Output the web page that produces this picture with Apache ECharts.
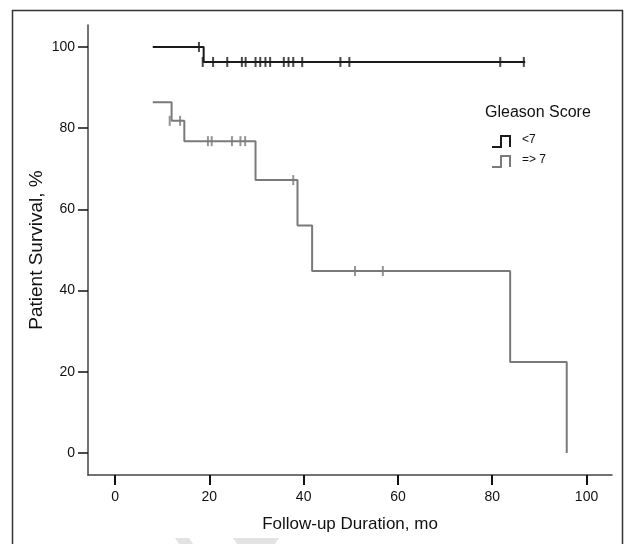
<!DOCTYPE html>
<html>
<head>
<meta charset="utf-8">
<script src="https://cdn.jsdelivr.net/npm/echarts@6/dist/echarts.min.js"></script>
<style>
html,body{margin:0;padding:0;background:#fff;}
#c{width:625px;height:544px;}
</style>
</head>
<body>
<div id="c"></div>
<script>
// ---- Data ----
const xTicks = [0, 20, 40, 60, 80, 100];
const yTicks = [0, 20, 40, 60, 80, 100];

// Gleason score < 7 : step points (time in months, survival %)
const lowTimes = [8, 18.8, 87];
const lowSurv = [100, 96.3, 96.3];
const lowCensorTimes = [17.8, 18.6, 20.8, 23.8, 26.9, 27.7, 29.8, 30.8, 31.9, 32.9, 35.8, 36.8, 37.8, 39.7, 47.8, 49.7, 81.7, 86.7];
const lowCensorSurv = [100, 96.3, 96.3, 96.3, 96.3, 96.3, 96.3, 96.3, 96.3, 96.3, 96.3, 96.3, 96.3, 96.3, 96.3, 96.3, 96.3, 96.3];

// Gleason score => 7
const highTimes = [8, 12, 14.7, 29.8, 38.7, 41.8, 83.8, 95.8];
const highSurv = [86.4, 81.8, 76.8, 67.2, 56.0, 44.8, 22.4, 0];
const highCensorTimes = [11.6, 13.8, 19.7, 20.5, 24.8, 26.6, 27.6, 37.8, 50.9, 56.8];
const highCensorSurv = [81.8, 81.8, 76.8, 76.8, 76.8, 76.8, 76.8, 67.2, 44.8, 44.8];

const legendTitle = 'Gleason Score';
const seriesNames = ['<7', '=> 7'];
const xTitle = 'Follow-up Duration, mo';
const yTitle = 'Patient Survival, %';

// ---- Build ----
const zip = (a, b) => a.map((v, i) => [v, b[i]]);
const FONT = '"Liberation Sans", Arial, sans-serif';
const BLACK = '#1a1a1a';
const GRAY = '#7a7a7a';

const chart = echarts.init(document.getElementById('c'), null, {renderer: 'canvas'});

function legendIcon(x, y, color) {
  return {
    type: 'polyline',
    shape: {points: [[x, y + 11], [x + 9, y + 11], [x + 9, y], [x + 18, y], [x + 18, y + 11]]},
    style: {stroke: color, lineWidth: 2, fill: null}
  };
}

chart.setOption({
  animation: false,
  backgroundColor: '#fff',
  grid: {left: 88, right: 13, top: 25, bottom: 69, containLabel: false},
  xAxis: {
    type: 'value',
    min: -5.73, max: 105.4,
    name: xTitle,
    nameLocation: 'middle',
    nameGap: 41,
    nameMoveOverlap: false,
    nameTextStyle: {fontFamily: FONT, fontSize: 17, color: '#111'},
    axisLine: {show: true, onZero: false, lineStyle: {color: '#444', width: 1.5}},
    axisTick: {show: true, customValues: xTicks, length: 10, lineStyle: {color: '#111', width: 2}},
    axisLabel: {customValues: xTicks, fontFamily: FONT, fontSize: 14, color: '#111', margin: 15},
    splitLine: {show: false}
  },
  yAxis: {
    type: 'value',
    min: -5.42, max: 105.4,
    name: yTitle,
    nameLocation: 'middle',
    nameRotate: 90,
    nameGap: 42,
    nameMoveOverlap: false,
    nameTextStyle: {fontFamily: FONT, fontSize: 19, color: '#111'},
    axisLine: {show: true, onZero: false, lineStyle: {color: '#444', width: 1.5}},
    axisTick: {show: true, customValues: yTicks, length: 10, lineStyle: {color: '#111', width: 1.5}},
    axisLabel: {customValues: yTicks, fontFamily: FONT, fontSize: 14, color: '#111', margin: 13},
    splitLine: {show: false}
  },
  series: [
    {
      name: seriesNames[0], type: 'line', step: 'end', symbol: 'none',
      data: zip(lowTimes, lowSurv),
      lineStyle: {color: BLACK, width: 2}, z: 3
    },
    {
      name: seriesNames[1], type: 'line', step: 'end', symbol: 'none',
      data: zip(highTimes, highSurv),
      lineStyle: {color: GRAY, width: 2}, z: 2
    },
    {
      name: seriesNames[0] + ' censored', type: 'scatter', symbol: 'rect', symbolSize: [2, 10],
      data: zip(lowCensorTimes, lowCensorSurv),
      itemStyle: {color: BLACK}, z: 4
    },
    {
      name: seriesNames[1] + ' censored', type: 'scatter', symbol: 'rect', symbolSize: [2, 10],
      data: zip(highCensorTimes, highCensorSurv),
      itemStyle: {color: GRAY}, z: 4
    }
  ],
  graphic: [
    {type: 'rect', shape: {x: 12.5, y: 10.5, width: 610, height: 560}, style: {stroke: '#333', lineWidth: 1.5, fill: null}, silent: true},
    {type: 'polygon', shape: {points: [[175, 538], [189, 538], [193, 544], [179, 544]]}, style: {fill: '#e3e3e3'}, silent: true},
    {type: 'polygon', shape: {points: [[233, 538], [279, 538], [275, 544], [237, 544]]}, style: {fill: '#e3e3e3'}, silent: true},
    {type: 'text', x: 485, y: 105, style: {text: legendTitle, font: '16px ' + FONT, fill: '#111'}},
    legendIcon(492, 136, BLACK),
    {type: 'text', x: 522, y: 134, style: {text: seriesNames[0], font: '12px ' + FONT, fill: '#111'}},
    legendIcon(492, 156, GRAY),
    {type: 'text', x: 522, y: 154, style: {text: seriesNames[1], font: '12px ' + FONT, fill: '#111'}}
  ]
});
</script>
</body>
</html>
